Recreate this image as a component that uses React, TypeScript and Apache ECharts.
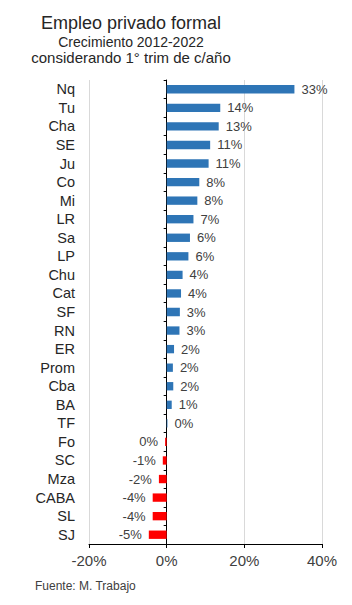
import React, { useEffect, useRef } from "react";
import * as echarts from "echarts";

const categories = ["Nq", "Tu", "Cha", "SE", "Ju", "Co", "Mi", "LR", "Sa", "LP", "Chu", "Cat", "SF", "RN", "ER", "Prom", "Cba", "BA", "TF", "Fo", "SC", "Mza", "CABA", "SL", "SJ"];
const values = [32.9, 13.8, 13.4, 11.2, 10.8, 8.4, 7.9, 6.9, 6.0, 5.6, 4.1, 3.7, 3.4, 3.3, 1.9, 1.6, 1.7, 1.3, 0.2, -0.4, -1.0, -2.0, -3.6, -3.6, -4.6];
const xTicks = [-20, 0, 20, 40];

const TITLE = "Empleo privado formal";
const SUB1 = "Crecimiento 2012-2022";
const SUB2 = "considerando 1° trim de c/año";
const SOURCE = "Fuente: M. Trabajo";

const BLUE = "#2E75B6";
const RED = "#FF0000";
const FONT = "Liberation Sans, Arial, sans-serif";

export default function App() {
  const ref = useRef<HTMLDivElement>(null);
  useEffect(() => {
    if (!ref.current) return;
    const chart = echarts.init(ref.current, null, { renderer: "svg" });
    chart.setOption({
      animation: false,
      backgroundColor: "#ffffff",
      textStyle: { fontFamily: FONT },
      graphic: [
        { type: "text", x: 131, y: 23, style: { text: TITLE, font: `18px ${FONT}`, fill: "#262626", textAlign: "center", textVerticalAlign: "middle" } },
        { type: "text", x: 131, y: 42, style: { text: SUB1, font: `14px ${FONT}`, fill: "#262626", textAlign: "center", textVerticalAlign: "middle" } },
        { type: "text", x: 131, y: 57, style: { text: SUB2, font: `15px ${FONT}`, fill: "#262626", textAlign: "center", textVerticalAlign: "middle" } },
        { type: "text", x: 35, y: 586, style: { text: SOURCE, font: `12px ${FONT}`, fill: "#404040", textAlign: "left", textVerticalAlign: "middle" } },
      ],
      grid: { left: 89, right: 30, top: 80, bottom: 61, containLabel: false },
      xAxis: {
        type: "value",
        min: xTicks[0],
        max: xTicks[xTicks.length - 1],
        interval: 20,
        axisLine: { show: true, onZero: false, lineStyle: { color: "#000", width: 1 } },
        axisTick: { show: true, length: 4, lineStyle: { color: "#000" } },
        axisLabel: { formatter: (v: number) => `${v}%`, fontSize: 15, color: "#404040", margin: 9, fontFamily: FONT },
        splitLine: { show: true, lineStyle: { color: "#D9D9D9", width: 1 } },
      },
      yAxis: [
        {
          type: "category",
          data: categories,
          inverse: true,
          axisLine: { show: false, onZero: false },
          axisTick: { show: false },
          axisLabel: { interval: 0, fontSize: 14.5, color: "#262626", margin: 14, fontFamily: FONT },
          splitLine: { show: false },
        },
        {
          type: "category",
          data: categories,
          inverse: true,
          position: "left",
          axisLine: { show: true, onZero: true, lineStyle: { color: "#000", width: 1 } },
          axisTick: { show: true, interval: 0, length: 3, lineStyle: { color: "#000" } },
          axisLabel: { show: false },
          splitLine: { show: false },
        },
      ],
      series: [
        {
          type: "bar",
          yAxisIndex: 0,
          barWidth: "45%",
          data: values.map((v) => ({
            value: v,
            itemStyle: { color: v < 0 ? RED : BLUE },
            label: { position: v < 0 ? "left" : "right" },
          })),
          label: {
            show: true,
            distance: 7,
            fontSize: 13,
            color: "#404040",
            fontFamily: FONT,
            formatter: (p: any) => `${Math.round(p.value) || 0}%`,
          },
        },
      ],
    });
    return () => chart.dispose();
  }, []);
  return <div ref={ref} style={{ position: "fixed", left: 0, top: 0, width: 352, height: 605 }} />;
}
